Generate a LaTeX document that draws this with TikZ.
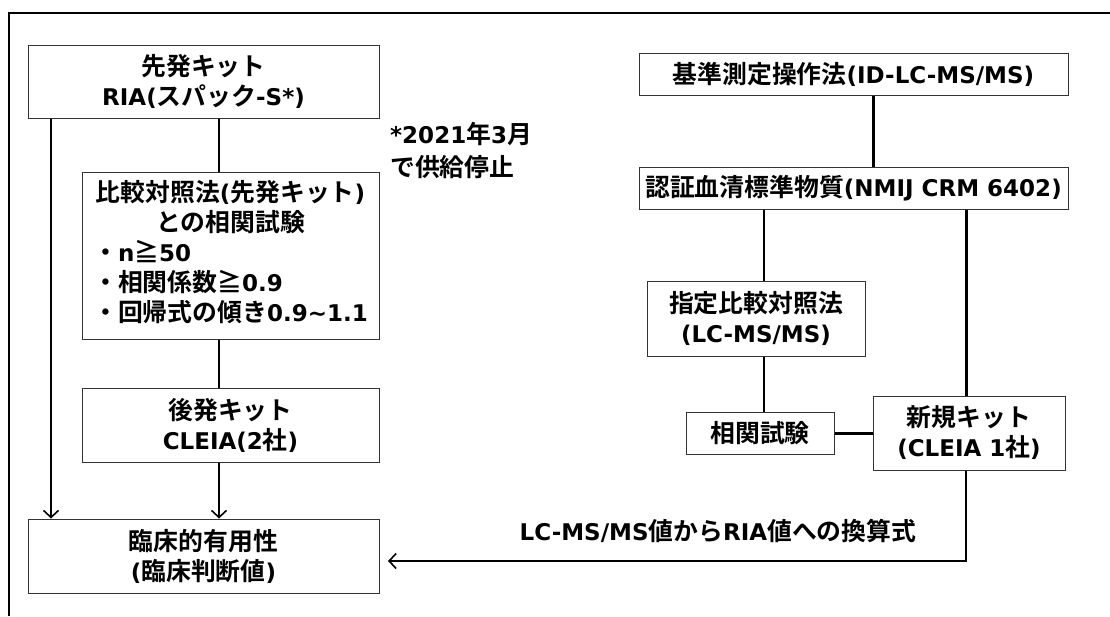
\documentclass[tikz,border=0pt]{standalone}
\usepackage{fontspec}
\setmainfont{DejaVu Sans}[BoldFont={DejaVu Sans Bold}]
\newfontfamily\jpfont{Noto Sans CJK JP Bold}[Scale=1.08]
\newfontfamily\latfont{DejaVu Sans Bold}
\XeTeXinterchartokenstate=1
\newXeTeXintercharclass\CJKcls
\count255="3000
\loop\XeTeXcharclass\count255=\CJKcls\ifnum\count255<"9FFF\advance\count255 1\repeat
\count255="FF00
\loop\XeTeXcharclass\count255=\CJKcls\ifnum\count255<"FFEF\advance\count255 1\repeat
\XeTeXcharclass"2267=\CJKcls
\XeTeXinterchartoks 0 \CJKcls = {\jpfont}
\XeTeXinterchartoks 4095 \CJKcls = {\jpfont}
\XeTeXinterchartoks \CJKcls 0 = {\latfont}
\XeTeXinterchartoks 4095 0 = {\latfont}
\usetikzlibrary{arrows.meta}
\begin{document}
\begin{tikzpicture}[x=1pt,y=-1pt,
  every node/.style={font=\fontsize{23}{30}\selectfont\latfont, inner sep=0pt},
  box/.style={draw=black!80, line width=1pt, rectangle, align=center},
  thin/.style={line width=1.8pt},
  thick/.style={line width=3pt},
  arr/.style={-{Straight Barb[length=7pt,width=15pt,line width=1.6pt]}, line width=1.8pt}]
\useasboundingbox (0,0) rectangle (1110,616);
\draw[line width=1.2pt] (9,616) -- (9,13) -- (1110,13);
% left column
\node[box, minimum width=351pt, minimum height=73pt] (A) at (203.5,81.5) {先発キット\\RIA(スパック-S*)};
\node[box, minimum width=297pt, minimum height=167pt] (B) at (230.5,255.5)
 {\begin{tabular}{@{}l@{}}\multicolumn{1}{@{}c@{}}{比較対照法(先発キット)}\\
  \multicolumn{1}{@{}c@{}}{との相関試験}\\
  ・n≧50\\ ・相関係数≧0.9\\ ・回帰式の傾き0.9\char"007E 1.1\end{tabular}};
\node[box, minimum width=297pt, minimum height=74pt] (C) at (230.5,425) {後発キット\\CLEIA(2社)};
\node[box, minimum width=351pt, minimum height=74pt] (D) at (203.5,556) {臨床的有用性\\(臨床判断値)};
\node[align=left, anchor=north west, font=\fontsize{23}{33}\selectfont\latfont] (note) at (390,122) {*2021年3月\\で供給停止};
% right column
\node[box, minimum width=429pt, minimum height=42pt] (E) at (853.5,74) {基準測定操作法(ID-LC-MS/MS)};
\node[box, minimum width=429pt, minimum height=42pt] (F) at (853.5,188) {認証血清標準物質(NMIJ CRM 6402)};
\node[box, minimum width=218pt, minimum height=75pt] (G) at (756,318.5) {指定比較対照法\\(LC-MS/MS)};
\node[box, minimum width=148pt, minimum height=42pt] (H) at (760,433) {相関試験};
\node[box, minimum width=192pt, minimum height=74pt] (I) at (969,433) {新規キット\\(CLEIA 1社)};
\node (lab) at (718,531) {LC-MS/MS値からRIA値への換算式};
% column coordinates
\coordinate (lx) at (51,0);
\coordinate (cx) at (219,0);
\coordinate (ex) at (873,0);
\coordinate (gx) at (764,0);
\coordinate (ix) at (966,0);
\coordinate (aend) at (388,561);
% connectors left
\draw[arr] (A.south -| lx) -- (D.north -| lx);
\draw[thin] (A.south -| cx) -- (B.north -| cx);
\draw[thin] (B.south -| cx) -- (C.north -| cx);
\draw[arr] (C.south -| cx) -- (D.north -| cx);
% connectors right
\draw[thick] (E.south -| ex) -- (F.north -| ex);
\draw[thin] (F.south -| gx) -- (G.north -| gx);
\draw[thick] (F.south -| ix) -- (I.north -| ix);
\draw[thin] (G.south -| gx) -- (H.north -| gx);
\draw[thick] (H.east) -- (I.west);
\draw[arr] (I.south -| ix) |- (aend);
\end{tikzpicture}
\end{document}
